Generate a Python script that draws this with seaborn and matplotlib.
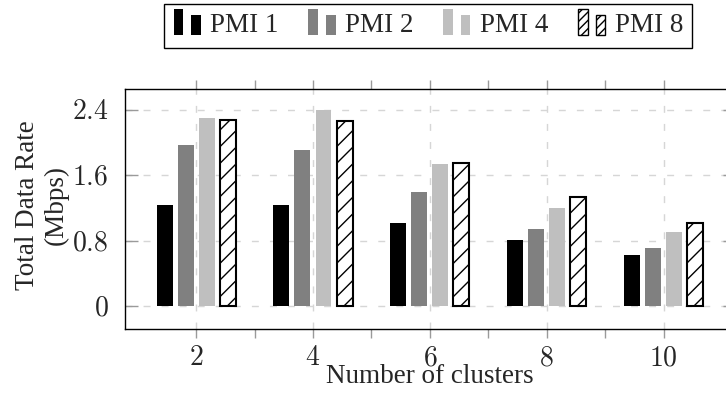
import numpy as np
import pandas as pd
import matplotlib
matplotlib.use("Agg")
import matplotlib.pyplot as plt
import seaborn as sns
from matplotlib.legend_handler import HandlerBase
from matplotlib.patches import Rectangle, Patch

# ---------------- data ----------------
clusters = [2, 4, 6, 8, 10]
series_names = ["PMI 1", "PMI 2", "PMI 4", "PMI 8"]
pmi1 = [1.24, 1.23, 1.01, 0.81, 0.62]
pmi2 = [1.97, 1.91, 1.39, 0.94, 0.71]
pmi4 = [2.30, 2.40, 1.73, 1.20, 0.91]
pmi8 = [2.28, 2.26, 1.75, 1.33, 1.01]
y_ticks = [0, 0.8, 1.6, 2.4]
y_tick_labels = ["$0$", "$0.8$", "$1.6$", "$2.4$"]
x_tick_labels = ["$2$", "$4$", "$6$", "$8$", "$10$"]
colors = {"PMI 1": "#000000", "PMI 2": "#808080", "PMI 4": "#bfbfbf", "PMI 8": "#ffffff"}

rows = []
for name, vals in zip(series_names, [pmi1, pmi2, pmi4, pmi8]):
    for c, v in zip(clusters, vals):
        rows.append({"clusters": c, "rate": v, "scheme": name})
df = pd.DataFrame(rows)

sns.set_theme(style="white")
plt.rcParams["font.family"] = ["Liberation Serif", "DejaVu Serif"]
plt.rcParams["mathtext.fontset"] = "cm"
plt.rcParams["hatch.linewidth"] = 1.0

FS = 19.5
TFS = 20
fig = plt.figure(figsize=(7.26, 3.94), dpi=100)
ax = fig.add_axes([125 / 726, 1 - 329 / 394, (735 - 125) / 726, (329 - 89) / 394])

sns.barplot(data=df, x="clusters", y="rate", hue="scheme", hue_order=series_names,
            palette=colors, native_scale=True, width=0.72, gap=0.24,
            errorbar=None, legend=False, ax=ax, linewidth=0, saturation=1)

for bar in ax.containers[3]:
    bar.set_facecolor("white")
    bar.set_edgecolor("black")
    bar.set_hatch("//")
    bar.set_linewidth(1.5)

ax.set_xlim(0.784, 11.22)
ax.set_ylim(-0.282, 2.653)
ax.set_xticks(clusters)
ax.set_xticklabels(x_tick_labels, fontsize=TFS)
ax.set_xticks([3, 5, 7, 9], minor=True)
ax.set_yticks(y_ticks)
ax.set_yticklabels(y_tick_labels, fontsize=TFS)

ax.tick_params(axis="x", which="both", direction="out", length=6.5, width=1,
               color="#9a9a9a", top=True, bottom=True, pad=6)
ax.tick_params(axis="y", which="both", direction="in", length=9, width=1,
               color="#9a9a9a", left=True, right=True, pad=12)

ax.set_axisbelow(True)
ax.grid(True, which="major", axis="both", color="#d6d6d6", linewidth=1,
        linestyle=(0, (5, 8)))
for s in ax.spines.values():
    s.set_color("black")
    s.set_linewidth(1.0)

ax.set_xlabel("Number of clusters", fontsize=FS, va="baseline")
ax.xaxis.set_label_coords(0.5, -(383 - 329) / 240)
ax.set_ylabel("")
fig.text(42 / 726, 1 - 205 / 394, "Total Data Rate\n(Mbps)", rotation=90,
         ha="center", va="center", multialignment="center", fontsize=FS,
         linespacing=1.15)


class TwoBarHandler(HandlerBase):
    def create_artists(self, legend, orig_handle, xdescent, ydescent, width,
                       height, fontsize, trans):
        fc = orig_handle.get_facecolor()
        ec = orig_handle.get_edgecolor()
        hatch = orig_handle.get_hatch()
        lw = orig_handle.get_linewidth()
        bw = width * 0.35
        x0 = -xdescent
        y0 = -ydescent - 0.15 * height
        arts = []
        for i, h in enumerate([1.35 * height, 1.05 * height]):
            r = Rectangle((x0 + i * (width - bw), y0), bw, h, facecolor=fc,
                          edgecolor=ec, hatch=hatch, linewidth=lw,
                          transform=trans)
            arts.append(r)
        return arts


handles = []
for name in series_names:
    if name == "PMI 8":
        handles.append(Patch(facecolor="white", edgecolor="black", hatch="////", linewidth=1.0))
    else:
        handles.append(Patch(facecolor=colors[name], edgecolor=colors[name], linewidth=0))

leg = fig.legend(handles, series_names, loc="center", bbox_to_anchor=(0.590, 0.935),
                 ncol=4, fontsize=FS, frameon=True, fancybox=False, framealpha=1,
                 edgecolor="black", handlelength=1.0, handleheight=0.7,
                 handletextpad=0.35, columnspacing=1.1, borderpad=0.35,
                 handler_map={Patch: TwoBarHandler()})
leg.get_frame().set_linewidth(1.0)

fig.savefig("out.png", dpi=100)
